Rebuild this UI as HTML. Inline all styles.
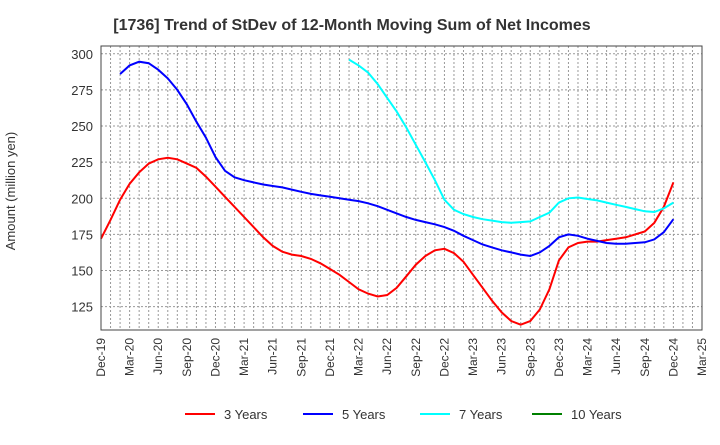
<!DOCTYPE html>
<html><head><meta charset="utf-8"><style>
body{margin:0;background:#fff;}
svg{font-family:"Liberation Sans",sans-serif;}
</style></head><body>
<svg id="c" width="720" height="440" xmlns="http://www.w3.org/2000/svg">
<text x="352" y="30" text-anchor="middle" font-size="16" font-weight="bold" fill="#333">[1736]  Trend of StDev of 12-Month Moving Sum of Net Incomes</text>
<text transform="translate(15,191) rotate(-90)" text-anchor="middle" font-size="13" fill="#333">Amount (million yen)</text>
<g id="grid"></g><g id="series"></g><g id="axes"></g>
<g id="legend"></g>
</svg>
<script>
const xLabels=["Dec-19","Mar-20","Jun-20","Sep-20","Dec-20","Mar-21","Jun-21","Sep-21","Dec-21","Mar-22","Jun-22","Sep-22","Dec-22","Mar-23","Jun-23","Sep-23","Dec-23","Mar-24","Jun-24","Sep-24","Dec-24","Mar-25"];
const yTicks=[125,150,175,200,225,250,275,300];
const seriesNames=["3 Years","5 Years","7 Years","10 Years"];
const seriesColors=["#ff0000","#0000ff","#00ffff","#008000"];
const y3=[172,185,199,210,218,224,227,228,227,224,221,215,208,201,194,187,180,173,167,163,161,160,158,155,151,147,142,137,134,132,133,138,146,154,160,164,165,162,156,147,138,129,121,115,112.5,115,123,137,157,166,169,170,170,171,172,173,175,177,183,194,211];
const y5=[null,null,286,292,294.5,293.5,289,283,275,265,253,242,228.5,219,214.5,212.5,211,209.5,208.5,207.5,206,204.5,203,202,201,200,199,198,196.5,194.5,192,189.5,187,185,183.5,182,180,177.5,174,171,168,166,164,162.5,161,160,162.5,167,173,175,174,172,170.5,169,168.5,168.5,169,169.5,171.5,176.5,185.5];
const y7=[null,null,null,null,null,null,null,null,null,null,null,null,null,null,null,null,null,null,null,null,null,null,null,null,null,null,296,292,287,279,269.5,260,249,237,225,212.5,199,192,189,187,185.5,184.5,183.5,183,183.5,184,187,190,197,200,200.5,199.5,198.5,197,195.5,194,192.5,191,190.5,193,197];
const y10=[];
const allSeries=[y3,y5,y7,y10];
const L=101,R=702,T=46,B=330,ymin=108.8,ymax=305.4,nMonths=63;
const NS="http://www.w3.org/2000/svg";
function sx(i){return L+(R-L)*i/nMonths;}
function sy(v){return B-(v-ymin)/(ymax-ymin)*(B-T);}
function mk(t,a,p){const e=document.createElementNS(NS,t);for(const k in a)e.setAttribute(k,a[k]);p.appendChild(e);return e;}
const grid=document.getElementById('grid'),axes=document.getElementById('axes'),ser=document.getElementById('series'),leg=document.getElementById('legend');
for(let m=1;m<nMonths;m++){const g=mk('line',{x1:sx(m),x2:sx(m),y1:T,y2:B,stroke:'#999','stroke-dasharray':'2,2','stroke-width':1},grid);
}
yTicks.forEach(v=>{const g=mk('line',{x1:L,x2:R,y1:sy(v),y2:sy(v),stroke:'#999','stroke-dasharray':'2,2','stroke-width':1},grid);

const t=mk('text',{x:L-8,y:sy(v)+5,'text-anchor':'end','font-size':13,fill:'#333'},axes);t.textContent=v;
});
xLabels.forEach((s,q)=>{const x=sx(q*3);const t=mk('text',{transform:`translate(${x+4},${B+8}) rotate(-90)`,'text-anchor':'end','font-size':12,fill:'#333'},axes);t.textContent=s;
});
const fr=mk('rect',{x:L,y:T,width:R-L,height:B-T,fill:'none',stroke:'#444','stroke-width':1},axes);

allSeries.forEach((arr,k)=>{let d='';let pen=false;arr.forEach((v,i)=>{if(v==null){pen=false;return;}d+=(pen?'L':'M')+sx(i).toFixed(1)+','+sy(v).toFixed(1);pen=true;});
if(d){const p=mk('path',{d:d,fill:'none',stroke:seriesColors[k],'stroke-width':2},ser);
}});
const lx=[185,303,420,532];
seriesNames.forEach((n,k)=>{const g=mk('g',{},leg);
mk('line',{x1:lx[k],x2:lx[k]+30,y1:414,y2:414,stroke:seriesColors[k],'stroke-width':2},g);
const t=mk('text',{x:lx[k]+39,y:419,'font-size':13,fill:'#333'},g);t.textContent=n;});
</script>
</body></html>
